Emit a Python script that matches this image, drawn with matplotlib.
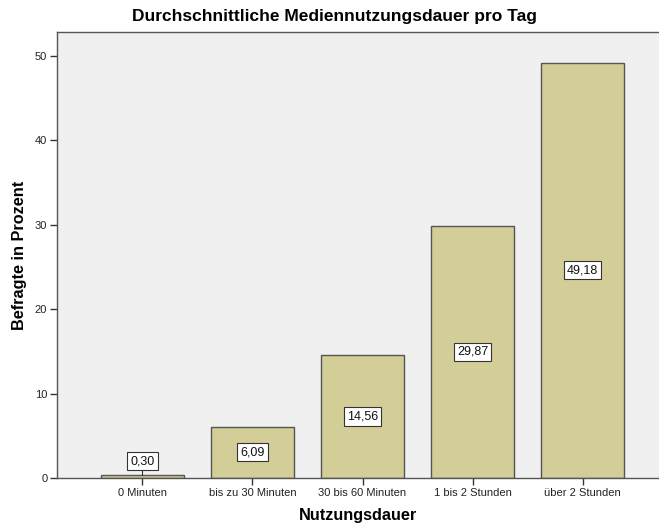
import matplotlib
matplotlib.use("Agg")
import matplotlib.pyplot as plt
import numpy as np

plt.rcParams["font.family"] = ["Liberation Sans", "DejaVu Sans"]

categories = ["0 Minuten", "bis zu 30 Minuten", "30 bis 60 Minuten", "1 bis 2 Stunden", "über 2 Stunden"]
values = [0.30, 6.09, 14.56, 29.87, 49.18]
y_ticks = [0, 10, 20, 30, 40, 50]

BAR_COLOR = "#d3ce98"
EDGE_COLOR = "#555555"
BG_COLOR = "#f0f0f0"

fig = plt.figure(figsize=(6.59, 5.26), dpi=100)
ax = fig.add_axes([57 / 659, 48 / 526, 602 / 659, 446 / 526])
ax.set_facecolor(BG_COLOR)

x = np.arange(len(categories))
ax.bar(x, values, width=0.755, color=BAR_COLOR, edgecolor=EDGE_COLOR, linewidth=1.0)

for xi, val in zip(x, values):
    label = f"{val:.2f}".replace(".", ",")
    # tiny bars get their label above, the rest in the middle
    y = val + 1.7 if val < 2 else val / 2
    ax.text(
        xi, y, label, ha="center", va="center", fontsize=9, color="#111111",
        bbox=dict(boxstyle="square,pad=0.25", fc="white", ec="#333333", lw=0.8),
    )
    if val < 2:
        ax.plot([xi, xi], [val, y - 1.0], color="#333333", lw=0.8)

ax.set_xlim(-0.777, 4.695)
ax.set_ylim(0, 52.8)
ax.set_xticks(x)
ax.set_xticklabels(categories, fontsize=8, color="#222222")
ax.set_yticks(y_ticks)
ax.set_yticklabels([str(t) for t in y_ticks], fontsize=8, color="#222222")
ax.tick_params(axis="both", length=5, width=1, color="#333333", pad=2)

ax.spines["right"].set_visible(False)
for side in ("left", "bottom", "top"):
    ax.spines[side].set_color("#555555")
    ax.spines[side].set_linewidth(1.0)

ax.set_xlabel("Nutzungsdauer", fontsize=11.7, fontweight="bold", labelpad=7.5)
ax.set_ylabel("Befragte in Prozent", fontsize=11.7, fontweight="bold", labelpad=6)
fig.text(335 / 659, 1 - 16 / 526, "Durchschnittliche Mediennutzungsdauer pro Tag",
         ha="center", va="center", fontsize=12.5, fontweight="bold")

fig.savefig("out.png", dpi=100, facecolor="white")
